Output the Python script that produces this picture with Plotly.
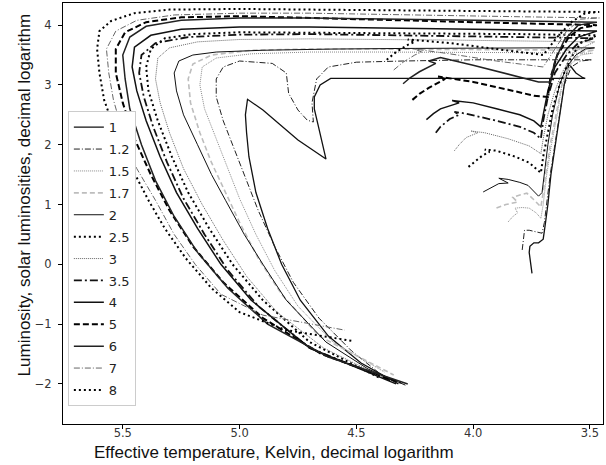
import plotly.graph_objects as go

masses = ["1", "1.2", "1.5", "1.7", "2", "2.5", "3", "3.5", "4", "5", "6", "7", "8"]

logT = {
"1": [3.748,3.752,3.76,3.757,3.74,3.72,3.70,3.69,3.68,3.667,3.648,3.63,3.61,3.59,3.56,3.53,3.52,4.61,4.655,4.68,4.68,4.665,4.645,4.63,4.75,4.90,4.966,4.975,4.97,4.96,4.93,4.88,4.82,4.74,4.62,4.48,4.32],
"1.2": [3.79,3.785,3.78,3.76,3.73,3.705,3.695,3.685,3.67,3.65,3.63,3.61,3.58,3.54,3.49,3.7,4.0,4.3,4.5,4.62,4.67,4.69,4.684,4.71,4.75,4.79,4.80,4.86,5.0,5.07,5.10,5.10,5.07,5.02,4.97,4.92,4.85,4.77,4.66,4.52,4.36],
"1.5": [3.85,3.83,3.81,3.82,3.79,3.76,3.73,3.71,3.70,3.685,3.665,3.64,3.62,3.58,3.54,3.49,3.8,4.1,4.4,4.7,4.95,5.1,5.16,5.17,5.15,5.10,5.05,5.00,4.93,4.85,4.75,4.60,4.38],
"1.7": [3.90,3.86,3.81,3.83,3.80,3.77,3.74,3.71,3.70,3.69,3.67,3.645,3.62,3.58,3.53,3.48,3.8,4.1,4.4,4.7,4.95,5.12,5.2,5.22,5.21,5.17,5.12,5.06,5.0,4.92,4.82,4.66,4.34],
"2": [3.957,3.93,3.89,3.85,3.87,3.89,3.85,3.80,3.765,3.74,3.72,3.705,3.695,3.68,3.66,3.63,3.60,3.56,3.52,3.48,3.7,4.0,4.3,4.6,4.9,5.1,5.2,5.26,5.28,5.27,5.24,5.18,5.12,5.06,4.98,4.90,4.80,4.63,4.45,4.29],
"2.5": [4.02,3.99,3.96,3.93,3.95,3.90,3.82,3.76,3.71,3.70,3.68,3.66,3.63,3.59,3.54,3.47,3.8,4.1,4.4,4.7,5.0,5.2,5.32,5.38,5.40,5.39,5.35,5.29,5.22,5.13,5.03,4.90,4.70,4.40],
"3": [4.08,4.06,4.03,4.00,3.98,4.01,3.95,3.85,3.76,3.71,3.70,3.68,3.65,3.62,3.57,3.48,3.8,4.1,4.4,4.7,5.0,5.18,5.30,5.35,5.36,5.34,5.30,5.24,5.16,5.07,4.97,4.84,4.64,4.37],
"3.5": [4.16,4.14,4.10,4.06,4.08,4.03,3.9,3.8,3.74,3.71,3.70,3.68,3.65,3.60,3.55,3.48,3.8,4.1,4.4,4.7,5.0,5.22,5.36,5.42,5.43,5.41,5.37,5.31,5.24,5.15,5.05,4.92,4.70,4.35],
"4": [4.20,4.17,4.14,4.08,4.06,4.09,4.0,3.9,3.80,3.74,3.71,3.70,3.68,3.65,3.60,3.55,3.47,3.8,4.1,4.4,4.7,5.0,5.25,5.38,5.45,5.46,5.44,5.40,5.34,5.27,5.18,5.08,4.95,4.70,4.33],
"5": [4.26,4.23,4.19,4.14,4.12,4.15,4.0,3.85,3.74,3.68,3.67,3.64,3.59,3.54,3.47,3.8,4.1,4.4,4.7,5.0,5.25,5.40,5.49,5.53,5.53,5.50,5.45,5.38,5.30,5.20,5.07,4.90,4.65,4.31],
"6": [4.30,4.27,4.23,4.18,4.16,4.19,4.14,4.0,3.85,3.72,3.67,3.65,3.61,3.55,3.47,3.8,4.1,4.4,4.7,5.0,5.25,5.40,5.47,5.50,5.49,5.47,5.42,5.36,5.28,5.18,5.05,4.88,4.62,4.28],
"7": [4.34,4.30,4.25,4.22,4.25,4.1,3.9,3.7,3.65,3.60,3.54,3.46,3.8,4.1,4.4,4.7,5.0,5.28,5.44,5.53,5.57,5.56,5.54,5.50,5.44,5.36,5.28,5.19,5.08,4.90,4.55],
"8": [4.37,4.33,4.28,4.25,4.28,4.1,3.9,3.7,3.64,3.58,3.52,3.46,3.8,4.1,4.4,4.7,5.0,5.3,5.45,5.55,5.60,5.61,5.60,5.58,5.53,5.46,5.39,5.32,5.23,5.12,5.0,4.80,4.52],
}

logL = {
"1": [-0.15,0.0,0.2,0.30,0.36,0.36,0.42,0.7,1.0,1.5,2.0,2.5,3.0,3.35,3.2,3.12,3.11,3.11,3.0,2.8,2.6,2.35,2.0,1.76,2.08,2.58,2.76,2.5,2.2,1.8,1.2,0.6,0.0,-0.6,-1.2,-1.65,-2.0],
"1.2": [0.24,0.4,0.57,0.57,0.54,0.52,0.7,1.0,1.5,2.0,2.5,3.0,3.3,3.4,3.42,3.42,3.42,3.40,3.38,3.3,3.1,2.7,2.38,2.41,2.58,2.86,3.2,3.36,3.40,3.3,3.1,2.8,2.4,1.9,1.4,0.9,0.3,-0.3,-0.9,-1.45,-1.95],
"1.5": [0.71,0.80,0.86,0.94,0.95,0.94,0.86,0.77,1.0,1.5,2.0,2.5,3.0,3.35,3.5,3.53,3.54,3.55,3.55,3.55,3.52,3.45,3.3,3.0,2.6,2.1,1.6,1.1,0.5,-0.1,-0.7,-1.3,-1.8],
"1.7": [0.94,1.0,1.04,1.12,1.16,1.19,1.08,0.96,1.2,1.5,2.0,2.5,3.0,3.4,3.55,3.58,3.59,3.6,3.6,3.6,3.58,3.5,3.35,3.1,2.7,2.2,1.7,1.2,0.7,0.1,-0.5,-1.2,-1.85],
"2": [1.21,1.27,1.35,1.36,1.40,1.44,1.42,1.37,1.32,1.22,1.14,1.2,1.5,2.0,2.5,3.0,3.3,3.5,3.6,3.62,3.62,3.62,3.61,3.6,3.58,3.55,3.5,3.4,3.2,2.9,2.5,2.0,1.5,1.07,0.5,0.0,-0.6,-1.3,-1.75,-2.02],
"2.5": [1.63,1.72,1.82,1.88,1.92,1.90,1.80,1.70,1.53,1.8,2.2,2.6,3.0,3.4,3.7,3.83,3.85,3.86,3.87,3.88,3.88,3.85,3.78,3.6,3.3,2.9,2.4,1.8,1.2,0.6,0.0,-0.6,-1.3,-1.9],
"3": [1.90,2.0,2.12,2.17,2.2,2.23,2.2,2.1,1.98,1.85,2.1,2.5,2.9,3.2,3.55,3.72,3.74,3.75,3.76,3.77,3.76,3.72,3.62,3.45,3.1,2.7,2.2,1.6,1.0,0.4,-0.2,-0.8,-1.4,-1.92],
"3.5": [2.2,2.3,2.43,2.5,2.55,2.52,2.4,2.3,2.2,2.1,2.4,2.8,3.2,3.5,3.7,3.78,3.8,3.82,3.84,3.85,3.84,3.8,3.7,3.5,3.2,2.8,2.3,1.7,1.1,0.5,-0.1,-0.7,-1.4,-1.95],
"4": [2.42,2.52,2.6,2.68,2.70,2.74,2.7,2.6,2.5,2.4,2.3,2.5,2.9,3.3,3.6,3.8,3.9,3.92,3.94,3.96,3.97,3.97,3.93,3.83,3.63,3.3,2.9,2.4,1.8,1.2,0.6,0.0,-0.6,-1.4,-2.0],
"5": [2.75,2.85,2.95,3.05,3.1,3.14,3.05,2.92,2.82,2.8,3.1,3.5,3.8,3.95,4.0,4.03,4.06,4.1,4.13,4.15,4.13,4.05,3.88,3.6,3.2,2.7,2.1,1.5,0.9,0.3,-0.3,-0.9,-1.5,-1.98],
"6": [3.02,3.12,3.22,3.32,3.36,3.4,3.46,3.33,3.18,3.05,3.05,3.4,3.75,4.0,4.05,4.07,4.09,4.1,4.12,4.12,4.08,3.98,3.8,3.5,3.1,2.6,2.0,1.4,0.8,0.2,-0.4,-1.0,-1.55,-2.0],
"7": [3.25,3.38,3.5,3.55,3.6,3.52,3.4,3.3,3.6,3.9,4.1,4.12,4.14,4.16,4.18,4.2,4.2,4.17,4.08,3.9,3.6,3.2,2.75,2.2,1.6,1.07,0.5,0.0,-0.5,-0.85,-1.1],
"8": [3.42,3.55,3.67,3.72,3.76,3.7,3.6,3.5,3.8,4.05,4.2,4.22,4.23,4.24,4.25,4.26,4.27,4.26,4.2,4.07,3.9,3.6,3.2,2.75,2.2,1.6,1.07,0.6,0.1,-0.4,-0.8,-1.1,-1.28],
}

styles = {
"1":   dict(color="#111111", width=1.3, dash="solid"),
"1.2": dict(color="#222222", width=1.0, dash="6px,2px,1px,2px"),
"1.5": dict(color="#8a8a8a", width=1.0, dash="1px,1px"),
"1.7": dict(color="#bdbdbd", width=1.6, dash="5px,3px"),
"2":   dict(color="#111111", width=1.0, dash="solid"),
"2.5": dict(color="#000000", width=2.0, dash="2px,3px"),
"3":   dict(color="#666666", width=1.0, dash="1px,1px"),
"3.5": dict(color="#111111", width=1.8, dash="8px,3px,2px,3px"),
"4":   dict(color="#111111", width=1.5, dash="solid"),
"5":   dict(color="#000000", width=2.0, dash="6px,3px"),
"6":   dict(color="#222222", width=1.5, dash="solid"),
"7":   dict(color="#666666", width=1.0, dash="6px,2px,1px,2px"),
"8":   dict(color="#000000", width=2.0, dash="2px,3px"),
}

fig = go.Figure()
for m in masses:
    fig.add_trace(go.Scatter(x=logT[m], y=logL[m], mode="lines", name=m,
                             legendgroup=m, line=styles[m]))

tick_font = dict(family="DejaVu Sans", size=11.5, color="#333333")
fig.update_layout(
    width=606, height=465,
    margin=dict(l=63, r=3, t=3, b=41),
    paper_bgcolor="white", plot_bgcolor="white",
    showlegend=True,
    legend=dict(x=0.009, y=0.743, xanchor="left", yanchor="top",
                bgcolor="white", bordercolor="#cccccc", borderwidth=1,
                font=dict(family="DejaVu Sans", size=13, color="#222222"),
                tracegroupgap=2, itemwidth=30),
    xaxis=dict(range=[5.756, 3.444], tickvals=[5.5, 5.0, 4.5, 4.0, 3.5],
               ticktext=["5.5", "5.0", "4.5", "4.0", "3.5"],
               showline=True, linecolor="black", linewidth=1, mirror=True,
               ticks="outside", ticklen=4, tickcolor="black",
               ticklabelstandoff=-6,
               showgrid=False, zeroline=False, tickfont=tick_font),
    yaxis=dict(range=[-2.67, 4.37], tickvals=[-2, -1, 0, 1, 2, 3, 4],
               ticktext=["\u22122", "\u22121", "0", "1", "2", "3", "4"],
               showline=True, linecolor="black", linewidth=1, mirror=True,
               ticks="outside", ticklen=4, tickcolor="black",
               ticklabelstandoff=4,
               showgrid=False, zeroline=False, tickfont=tick_font),
    annotations=[
        dict(text="Effective temperature, Kelvin, decimal logarithm",
             xref="paper", yref="paper", x=0.391, y=0, yshift=-28,
             xanchor="center", yanchor="middle", showarrow=False,
             font=dict(family="Liberation Sans", size=17, color="#111111")),
        dict(text="Luminosity, solar luminosities, decimal logarithm",
             xref="paper", yref="paper", x=0, xshift=-39, y=0.543,
             xanchor="center", yanchor="middle", textangle=-90, showarrow=False,
             font=dict(family="Liberation Sans", size=17, color="#111111")),
    ],
)

fig.write_html("out.html")
